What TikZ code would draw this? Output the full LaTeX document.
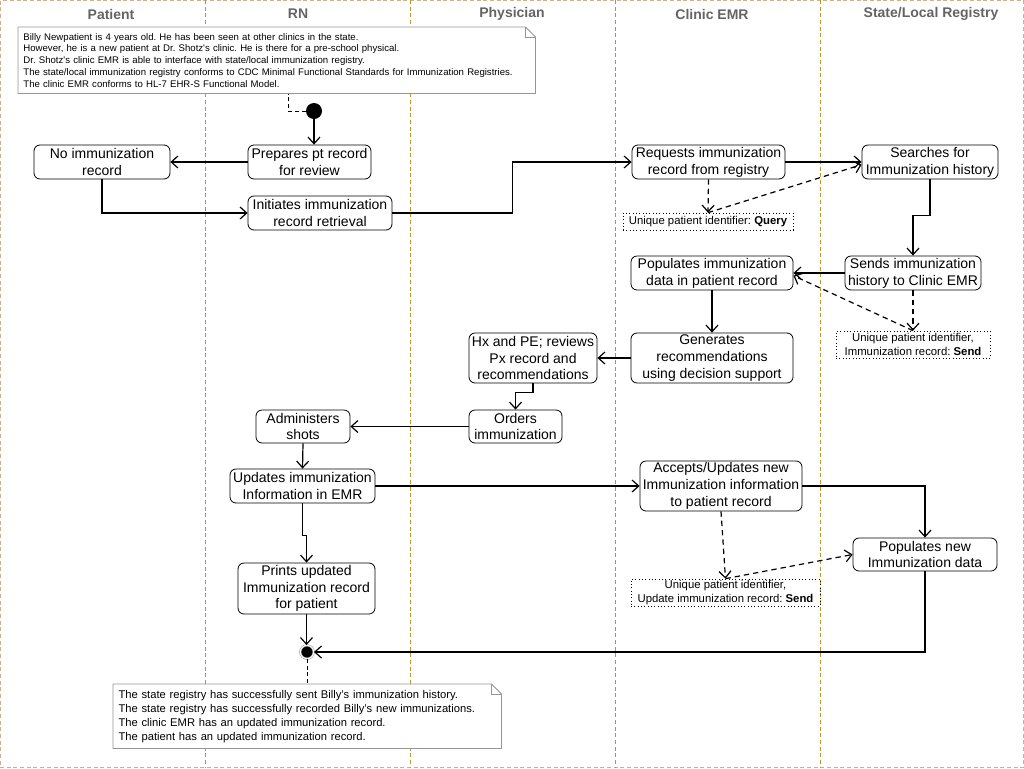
\documentclass[tikz,border=0pt]{standalone}
\usepackage{fontspec}
\setmainfont{Liberation Sans}
\usetikzlibrary{arrows.meta}
\definecolor{lanecol}{RGB}{190,150,40}
\definecolor{framecol}{RGB}{205,175,140}
\definecolor{headcol}{RGB}{100,100,100}
\definecolor{notecol}{RGB}{150,150,150}
\frenchspacing
\tikzset{
  act/.style={draw, rounded corners=4.5pt, align=center, inner sep=1pt,
    line width=0.6pt, font=\fontsize{10.5}{12.6}\selectfont},
  boxw/.style={minimum width=#1*0.75pt},
  boxh/.style={minimum height=#1*0.75pt},
  datum/.style={draw, dotted, line width=0.5pt, align=center, inner sep=1pt,
    font=\fontsize{8.5}{10.2}\selectfont},
  head/.style={text=headcol, font=\fontsize{10.5}{12}\selectfont\bfseries},
  note/.style={anchor=north west, align=left, inner sep=3.75pt, fill=white},
  notedge/.style={draw=notecol, line width=0.6pt},
  flow/.style={-{Straight Barb[length=5pt,width=9pt]}, line width=0.9pt},
  msg/.style={flow, dash pattern=on 4pt off 3pt},
  link/.style={line width=0.6pt, dash pattern=on 3pt off 2pt},
  lane/.style={draw=lanecol, line width=0.7pt, dash pattern=on 3pt off 2pt}
}
\begin{document}
\begin{tikzpicture}[x=0.75pt, y=-0.75pt]
  \useasboundingbox (0,0) rectangle (1024,768);
  \draw[framecol, line width=0.8pt, dash pattern=on 3pt off 2pt] (0.5,0.5) rectangle (1023.5,767.5);
  \foreach \x in {205.5,410.5,615.5,820.5}
    \draw[lane] (\x,0) -- (\x,768);
  % swimlane titles
  \node[head] (hpat) at (111,14) {Patient};
  \node[head] (hrn) at (298,14) {RN};
  \node[head] (hphy) at (512,14) {Physician};
  \node[head] (hemr) at (712,14) {Clinic EMR};
  \node[head] (hreg) at (931,14) {State/Local Registry};
  % notes
  \node[note, boxw=517, boxh=66, text width=380pt, font=\fontsize{7.2}{8.8}\selectfont] (pre) at (18,27)
    {Billy Newpatient is 4 years old. He has been seen at other clinics in the state.\\
     However, he is a new patient at Dr. Shotz\textquotesingle s clinic. He is there for a pre-school physical.\\
     Dr. Shotz\textquotesingle s clinic EMR is able to interface with state/local immunization registry.\\
     The state/local immunization registry conforms to CDC Minimal Functional Standards for Immunization Registries.\\
     The clinic EMR conforms to HL-7 EHR-S Functional Model.};
  \fill[white] ([xshift=-7.5pt]pre.north east) -- ([yshift=1pt]pre.north east) -- ([yshift=-7.5pt]pre.north east) -- cycle;
  \draw[notedge] (pre.north west) -- ([xshift=-7.5pt]pre.north east) -- ([yshift=-7.5pt]pre.north east)
    -- (pre.south east) -- (pre.south west) -- cycle;
  \draw[notedge] ([xshift=-7.5pt]pre.north east) |- ([yshift=-7.5pt]pre.north east);
  \node[note, boxw=388, boxh=64, text width=283pt, font=\fontsize{8.4}{10.5}\selectfont] (post) at (113,684)
    {The state registry has successfully sent Billy’s immunization history.\\
     The state registry has successfully recorded Billy’s new immunizations.\\
     The clinic EMR has an updated immunization record.\\
     The patient has an updated immunization record.};
  \fill[white] ([xshift=-7.5pt]post.north east) -- ([yshift=1pt]post.north east) -- ([yshift=-7.5pt]post.north east) -- cycle;
  \draw[notedge] (post.north west) -- ([xshift=-7.5pt]post.north east) -- ([yshift=-7.5pt]post.north east)
    -- (post.south east) -- (post.south west) -- cycle;
  \draw[notedge] ([xshift=-7.5pt]post.north east) |- ([yshift=-7.5pt]post.north east);
  % start and end
  \node[circle, fill=black, inner sep=0pt, minimum size=12pt] (start) at (314,111) {};
  \node[circle, fill=black, draw=notecol, double=white, double distance=0.8pt, line width=0.4pt,
    inner sep=0pt, minimum size=10pt] (end) at (307,652) {};
  % activities
  \node[act, boxw=123, boxh=34] (prep) at (309.5,162) {Prepares pt record\\for review};
  \node[act, boxw=136, boxh=34] (noimm) at (102,162) {No immunization\\record};
  \node[act, boxw=144, boxh=34] (init) at (320,213) {Initiates immunization\\record retrieval};
  \node[act, boxw=153, boxh=34] (req) at (708.5,162) {Requests immunization\\record from registry};
  \node[act, boxw=136, boxh=34] (srch) at (930,162) {Searches for\\Immunization history};
  \node[datum, boxw=170, boxh=17] (qry) at (708,221.5) {Unique patient identifier: \textbf{Query}};
  \node[act, boxw=162, boxh=34] (pop) at (712,273) {Populates immunization\\data in patient record};
  \node[act, boxw=136, boxh=34] (sends) at (913,273) {Sends immunization\\history to Clinic EMR};
  \node[datum, boxw=154, boxh=27] (sb1) at (913,344.5) {Unique patient identifier,\\Immunization record: \textbf{Send}};
  \node[act, boxw=162, boxh=50] (gen) at (712,358) {Generates\\recommendations\\using decision support};
  \node[act, boxw=128, boxh=50] (hx) at (533,358) {Hx and PE; reviews\\Px record and\\recommendations};
  \node[act, boxw=93, boxh=33] (ord) at (515.5,426.5) {Orders\\immunization};
  \node[act, boxw=94, boxh=33] (adm) at (303,426.5) {Administers\\shots};
  \node[act, boxw=145, boxh=34] (upd) at (302.5,486) {Updates immunization\\Information in EMR};
  \node[act, boxw=162, boxh=50] (acc) at (721,486) {Accepts/Updates new\\Immunization information\\to patient record};
  \node[act, boxw=144, boxh=33] (popn) at (925,554.5) {Populates new\\Immunization data};
  \node[datum, boxw=189, boxh=27] (sb2) at (725.5,592.5) {Unique patient identifier,\\Update immunization record: \textbf{Send}};
  \node[act, boxw=137, boxh=51] (prt) at (306.5,588.5) {Prints updated\\Immunization record\\for patient};
  % connectors
  \draw[link] (start.west) -| ([xshift=-12.75pt]start.west |- pre.south);
  \draw[flow] (start) -- (start |- prep.north);
  \draw[flow] (prep.west) -- (noimm.east);
  \draw[flow] (noimm.south) |- (init.west);
  \draw[flow] (init.east) -- ++(120,0) |- (req.west);
  \draw[flow] (req.east) -- (srch.west);
  \draw[msg] (req.south) -- (qry.north);
  \draw[msg] (qry.north) -- ([yshift=-2pt]srch.west);
  \draw[flow] (srch.south) -- ++(0,36) -| (sends.north);
  \draw[flow] (sends.west) -- (pop.east);
  \draw[msg] (sends.south) -- (sb1.north);
  \draw[msg] (sb1.north) -- ([yshift=-2pt]pop.east);
  \draw[flow] (pop.south) -- (gen.north);
  \draw[flow] (gen.west) -- (hx.east);
  \draw[flow] (hx.south) -- ++(0,9) -| (ord.north);
  \draw[flow] (ord.west) -- (adm.east);
  \draw[flow] (adm.south) -- (upd.north);
  \draw[flow] (upd.east) -- (acc.west);
  \draw[flow] (upd.south) -- ++(0,32) -| (prt.north);
  \draw[flow] (acc.east) -| (popn.north);
  \draw[msg] (acc.south) -- (sb2.north);
  \draw[msg] (sb2.north) -- (popn.west);
  \draw[flow] (prt.south) -- (prt.south |- end.north);
  \draw[flow] (popn.south) |- (end.east);
  \draw[link] (end.south) -- (end |- post.north);
\end{tikzpicture}
\end{document}
